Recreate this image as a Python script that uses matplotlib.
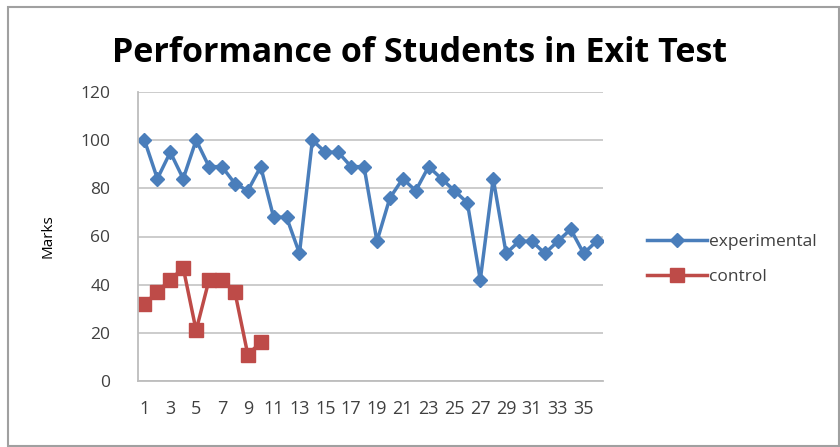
import numpy as np
import matplotlib.pyplot as plt
from matplotlib.patches import Rectangle

# marks
students = np.arange(1, 37)
experimental = [100, 84, 95, 84, 100, 89, 89, 82, 79, 89, 68, 68, 53, 100, 95, 95,
                89, 89, 58, 76, 84, 79, 89, 84, 79, 74, 42, 84, 53, 58, 58, 53,
                58, 63, 53, 58]
control = [32, 37, 42, 47, 21, 42, 42, 37, 11, 16]
yticks = [0, 20, 40, 60, 80, 100, 120]

plt.rcParams['font.family'] = ['Open Sans', 'DejaVu Sans']

fig = plt.figure(figsize=(8.4, 4.47), dpi=100)
ax = fig.add_axes((138 / 840, 1 - 381 / 447, 465 / 840, 289 / 447))

ax.plot(students, experimental, color='#4A7EBB', lw=2.5, marker='D', ms=7,
        label='experimental')
ax.plot(students[:len(control)], control, color='#BE4B48', lw=2.5, marker='s', ms=10,
        label='control')

ax.set_xlim(0.5, 36.5)
ax.set_ylim(0, 120)
ax.set_yticks(yticks)
ax.set_xticks(students[::2])
ax.tick_params(length=0, labelsize=12.5, colors='#404040')
ax.tick_params(axis='y', pad=20)
ax.tick_params(axis='x', pad=14, labelsize=13)
ax.grid(axis='y', color='#C8C8C8', lw=1.3)
ax.set_axisbelow(True)
for s in ['top', 'right']:
    ax.spines[s].set_visible(False)
for s in ['left', 'bottom']:
    ax.spines[s].set_color('#BDBDBD')
    ax.spines[s].set_linewidth(1.3)

ax.set_ylabel('Marks', fontsize=11, labelpad=18)
fig.text(0.5, 0.862, 'Performance of Students in Exit Test', ha='center',
         fontsize=24.5, fontweight='bold')

ax.legend(loc='center left', bbox_to_anchor=(1.06, 0.42), frameon=False,
          fontsize=12.5, handlelength=3.5, handletextpad=0.1, labelspacing=1.1,
          labelcolor='#404040')

fig.patches.append(Rectangle((8 / 840, 1 / 447), 831 / 840, 439 / 447,
                             transform=fig.transFigure, fill=False,
                             edgecolor='#A0A0A0', lw=1.5))

fig.savefig('out.png', dpi=100)
